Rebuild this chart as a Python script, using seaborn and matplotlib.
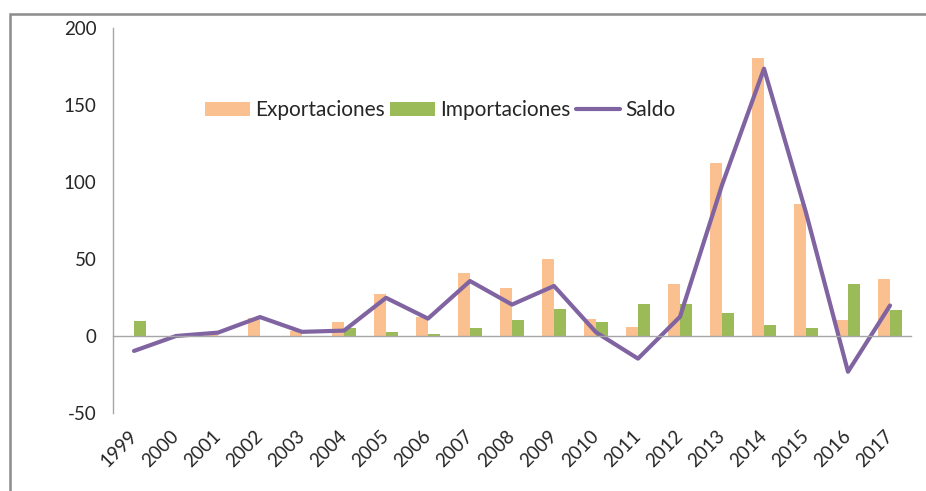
import matplotlib
matplotlib.use("Agg")
import matplotlib.pyplot as plt
import seaborn as sns
import numpy as np
import pandas as pd
from matplotlib.patches import Rectangle
from matplotlib.ticker import FixedLocator

years = [str(y) for y in range(1999, 2018)]
exportaciones = [0.3, 0.2, 1.7, 12.0, 3.0, 9.0, 27.5, 12.3, 41.0, 31.0, 49.8, 11.3, 6.1, 33.9, 112.3, 180.8, 85.5, 10.6, 36.8]
importaciones = [10.0, 0.2, -0.5, -0.5, 0.3, 5.4, 2.4, 1.0, 5.4, 10.6, 17.8, 9.1, 20.8, 20.8, 15.0, 7.0, 5.4, 33.8, 17.1]
saldo = [-9.7, 0.0, 2.2, 12.3, 2.7, 3.5, 24.8, 11.3, 35.7, 20.4, 32.5, 2.4, -14.7, 12.5, 98.0, 173.6, 80.1, -23.2, 19.8]

c_exp = "#FAC090"
c_imp = "#9BBB59"
c_sal = "#8064A2"

sns.set_theme(style="white")
plt.rcParams["font.family"] = ["Lato", "DejaVu Sans"]
plt.rcParams["axes.unicode_minus"] = False

df = pd.DataFrame({
    "Año": years * 2,
    "Valor": exportaciones + importaciones,
    "Serie": ["Exportaciones"] * len(years) + ["Importaciones"] * len(years),
})

fig = plt.figure(figsize=(9.26, 4.91), dpi=100)
ax = fig.add_axes([113 / 926, 1 - 413 / 491, (911 - 113) / 926, (413 - 28) / 491])

sns.barplot(data=df, x="Año", y="Valor", hue="Serie", order=years,
            palette={"Exportaciones": c_exp, "Importaciones": c_imp},
            width=0.55, saturation=1, ax=ax, edgecolor="none")
sns.lineplot(x=np.arange(len(years)), y=saldo, color=c_sal, linewidth=3.0,
             ax=ax, label="Saldo")

ax.set_xlim(-0.5, len(years) - 0.5)
ax.set_ylim(-50, 200)
ax.set_yticks([-50, 0, 50, 100, 150, 200])
ax.set_xlabel("")
ax.set_ylabel("")

for s in ["top", "right"]:
    ax.spines[s].set_visible(False)
ax.spines["left"].set_color("#A6A6A6")
ax.spines["left"].set_linewidth(1.0)
ax.spines["bottom"].set_position(("data", 0))
ax.spines["bottom"].set_color("#A6A6A6")
ax.spines["bottom"].set_linewidth(1.0)

ax.xaxis.set_minor_locator(FixedLocator(np.arange(-0.5, len(years), 1.0)))
ax.tick_params(axis="x", which="minor", length=6, color="#A6A6A6", width=1, direction="out")
ax.tick_params(axis="x", which="major", length=0, pad=70, labelsize=13.5)
ax.tick_params(axis="y", which="major", length=4, color="#A6A6A6", width=1, direction="out",
               labelsize=13.5, pad=8)
for lab in ax.get_xticklabels():
    lab.set_rotation(45)
    lab.set_ha("right")
    lab.set_va("center")
    lab.set_rotation_mode("anchor")

handles, labels = ax.get_legend_handles_labels()
order = [labels.index(n) for n in ["Exportaciones", "Importaciones", "Saldo"]]
ax.legend([handles[i] for i in order], [labels[i] for i in order],
          loc="center left", bbox_to_anchor=(0.105, 0.787), ncol=3, frameon=False,
          fontsize=15, handlelength=2.15, handleheight=0.65, handletextpad=0.25,
          columnspacing=0.25, borderaxespad=0)

fig.patches.append(Rectangle((10 / 926, -0.1), 1.2, 1 - 14 / 491 + 0.1,
                             transform=fig.transFigure, fill=False,
                             edgecolor="#8C8C8C", linewidth=1.8))

fig.savefig("out.png", dpi=100)
